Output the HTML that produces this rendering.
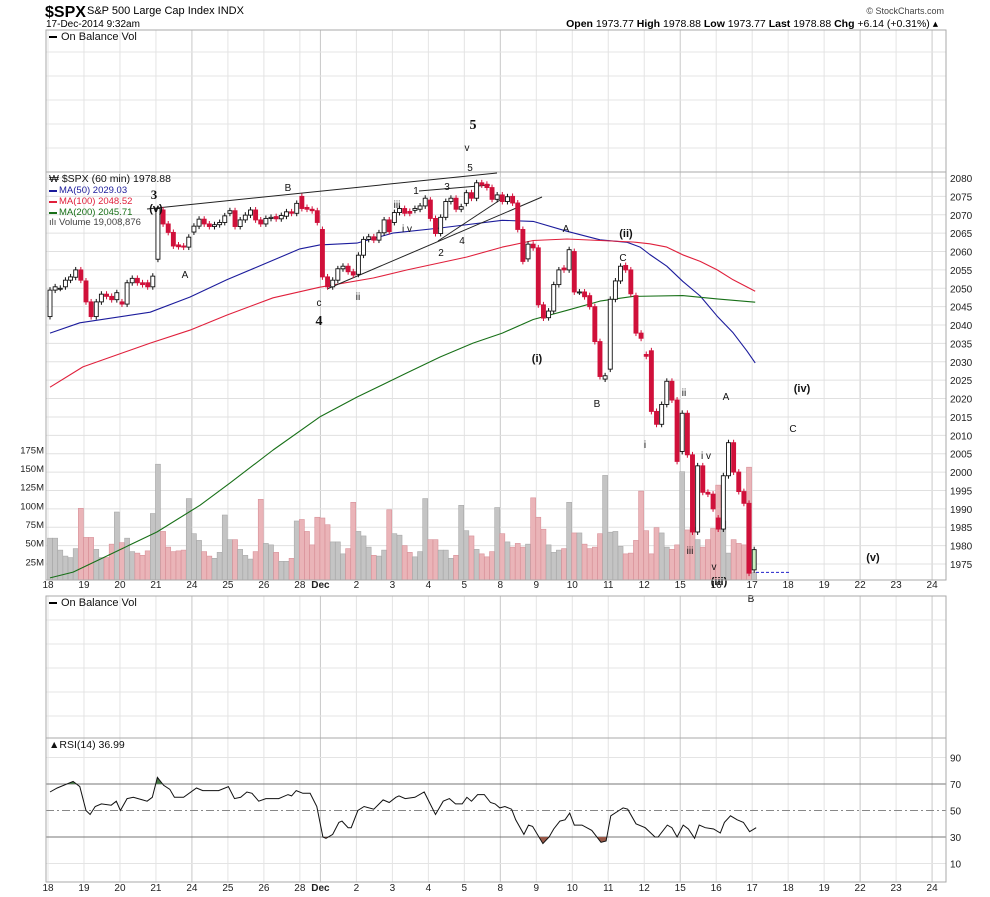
<!DOCTYPE html>
<html><head><meta charset="utf-8">
<style>
html,body{margin:0;padding:0;background:#fff;}
svg{display:block;font-family:"Liberation Sans",sans-serif;}
</style></head>
<body>
<svg id="chart" width="990" height="897" viewBox="0 0 990 897" xmlns="http://www.w3.org/2000/svg">
<text x="45" y="17" font-size="16" font-weight="bold">$SPX</text>
<text x="87" y="14" font-size="11">S&amp;P 500 Large Cap Index  INDX</text>
<text x="46" y="27" font-size="10">17-Dec-2014 9:32am</text>
<text x="944" y="14" font-size="9" fill="#444" text-anchor="end">© StockCharts.com</text>
<text x="938" y="27" font-size="10.5" text-anchor="end"><tspan font-weight="bold">Open</tspan> 1973.77  <tspan font-weight="bold">High</tspan> 1978.88  <tspan font-weight="bold">Low</tspan> 1973.77  <tspan font-weight="bold">Last</tspan> 1978.88  <tspan font-weight="bold">Chg</tspan> +6.14 (+0.31%) ▴</text>
<g id="grid"></g>
<g id="vol"></g>
<g id="ma"></g>
<g id="lines"></g>
<g id="candles"></g>
<g id="rsi"></g>
<g id="ann"></g>
<g id="frame"></g>
</svg>
<script>
// ---- data ----
const opens = [2042.3,2049.5,2050,2050.4,2052.2,2053,2055,2052,2046.3,2042.3,2046.3,2048.4,2047.8,2046.9,2046.3,2045.7,2051.5,2052.7,2051.5,2051.5,2050.4,
2057.9,2071.3,2067.5,2065.2,2061.8,2061.5,2061.2,
2065.3,2066.9,2068.8,2067.5,2066.8,2067.3,2067.9,
2070.4,2071.1,2066.8,2068.6,2069.9,2071.3,2068.6,
2067.5,2069,2069.5,2068.9,2069.6,2070.8,2070.4,
2075,2072,2071.5,2071.1,
2066,2053.1,2050.4,2052.2,2055.3,2056,2054.5,
2053.8,2059,2063.3,2064,2063.1,2065.1,2068.6,
2067.9,2070.6,2071.7,2070.9,2071.2,2071.5,2072.4,
2074,2069,2064.9,2069.3,2073.6,2074.5,2071.5,
2073.1,2076,2074.5,2078.7,2078.3,2077.4,2074.2,
2075.4,2073.6,2075,2073.2,2066,2058,2062,
2061,2045.5,2042,2043.8,2051,2055.5,2055,
2060,2049,2049,2048,2045,2035.5,2025.3,
2028,2047,2052,2056.2,2055,2048,2037.8,
2032,2033,2016.5,2013,2018.4,2024.7,2019.6,
2005.6,2016,2004.7,1983.7,2001.7,1994.5,1994,
1987.5,1984.5,1999,2008,2000,1994.7,1991.5,
1973.4];
const closes = [2049.5,2050.4,2050,2052.2,2053.1,2055,2052.2,2046.3,2042.3,2046.3,2048.4,2047.8,2046.9,2048.8,2045.7,2051.5,2052.7,2051.5,2051,2050.4,2053.3,
2071.7,2067.5,2065.2,2061.5,2061.3,2061.2,2063.9,
2066.9,2068.8,2067.5,2066.8,2067.3,2067.9,2069.7,
2071.1,2066.8,2068.6,2069.9,2071.3,2068.6,2067.5,
2069,2069.3,2068.9,2069.8,2070.8,2070.4,2073.1,
2071.7,2071.5,2071.1,2067.9,
2053.1,2050.4,2052.2,2055.3,2056,2054.5,2053.6,
2059,2063.3,2064,2063.1,2065.1,2068.6,2065.4,
2070.6,2071.7,2070.4,2070.4,2071.7,2072.4,2074.5,
2069,2064.9,2069.3,2073.6,2074.5,2071.5,2072.2,
2076,2074.5,2078.7,2078.1,2077.4,2074.2,2075.4,
2073.6,2074.9,2073.2,2066,2057.3,2062,2061,
2045.5,2041.9,2043.8,2051,2055,2055,2060.5,
2049,2049,2047.7,2045,2035.5,2026,2026.2,
2047,2052,2056,2055,2048.5,2037.8,2036.4,
2031.5,2016.5,2013,2018.4,2024.7,2019.6,2002.9,
2016,2004.7,1983.7,2001.7,1994.5,1994,1990,
1984.5,1999,2008,2000,1994.7,1991.5,1972.5,
1978.9];
const volumes = [56,56,40,32,30,42,96,57,57,41,30,30,48,91,50,56,38,36,33,39,89,155,65,44,38,39,40,109,
62,53,38,32,29,37,87,54,54,41,33,28,38,108,49,47,37,25,25,29,79,81,65,47,84,83,74,51,51,35,42,104,
65,59,44,33,32,40,94,62,60,46,37,31,38,109,54,54,40,40,29,33,100,66,59,41,35,31,38,97,
62,51,44,49,44,48,110, 84,68,47,37,40,42,104, 63,63,48,42,44,62,140, 64,65,45,35,36,53,119,
66,35,70,63,44,41,47, 145,67,70,54,44,54,69, 127,79,36,54,49,47,151, 10];
const ma50Idx = [0,5.8,19.5,27.2,34.4,40.3,48.6,52.5,59.7,66.7,75.9,88,94,100.6,107,112.3,114.8,116.7,120,123.1,126.5,129.8,132.9,135.6,137.2];
const ma50 = [2037.8,2040.6,2043.5,2047.6,2052.3,2055.8,2060.7,2061.8,2062.3,2065,2066.4,2068.5,2068.2,2065.5,2063.2,2062.5,2061.2,2059.2,2056,2051.9,2047.9,2042.4,2037.9,2032.9,2029.7];
const ma100Idx = [0,6.4,19.5,27.2,34.4,43.4,52.5,62.9,69.5,81.1,88,94,100.6,107,113.4,116.7,120,123.1,126.5,129.8,132.9,137.2];
const ma100 = [2023.1,2028.6,2035.1,2038.6,2042.7,2047.4,2050.3,2052.8,2055,2058.5,2061.2,2063,2063.4,2063,2062.6,2062.1,2061.2,2059.1,2057.3,2055,2052.3,2049.2];
const ma200Idx = [0,4.5,14.2,20.8,29.2,35,43.4,52.5,59.7,69.5,75.9,82.3,88,94,100.6,107,113.4,123.1,129.8,137.2];
const ma200 = [1971.2,1972.8,1979.3,1983.7,1991,1997,2006,2015,2020.4,2027,2031.3,2035.1,2037.8,2041.5,2044,2046.5,2047.8,2048,2047.1,2046.2];
const rsiIdx = [0,1.4,4.5,5.8,7,7.8,8.8,10,11.9,12.9,13.7,15,16.2,18,18.9,19.9,20.9,22.1,23.3,24.2,26,28.5,29.7,32.8,34.7,35.9,37.1,38.3,39.3,40.6,42,44.5,46.3,47,47.9,49.2,50.6,51.9,53.1,53.7,55,56.2,56.8,58,58.6,59.9,61.1,63,64.8,66,67.3,67.9,69.1,71,72.8,75,76.5,77.7,78.9,80.2,81.1,82,83.2,84.5,85.7,86.6,87.5,88.5,89.8,90.6,92.2,93.1,93.9,95.9,97.1,98,99.2,100.2,101.1,102,103.5,105.4,107.2,108.2,109.1,110.7,111.5,112.4,114,115.8,117.7,118.3,120.1,121,122,123.2,124.2,125.4,126.3,127.5,129.1,130.4,131.2,132.4,133.7,134.9,136.1,137.4];
const rsiVals = [64,67,72,68,50,47,53,55,54,57,50,59,60,58,57,60,75,69,66,60,60,67,65,65,68,59,60,64,63,57,59,59,62,61,65,63,63,53,30,29,32,41,42,37,37,50,53,51,58,56,60,61,59,60,64,47,57,59,55,55,60,57,62,62,56,55,52,53,51,43,32,39,38,25,30,36,42,43,48,39,39,35,26,27,46,50,52,51,40,37,30,30,39,37,30,39,36,29,39,37,36,33,41,46,43,41,34,37];
const dayLabels = ["18","19","20","21","24","25","26","28","Dec","2","3","4","5","8","9","10","11","12","15","16","17","18","19","22","23","24"];
const dayStart = [0,7,14,21,28,35,42,49,53,60,67,74,81,88,95,102,109,116,123,130,137,144,151,158,165,172];
const weekStarts = ["24","Dec","8","15","22"];
const priceTicks = [1975,1980,1985,1990,1995,2000,2005,2010,2015,2020,2025,2030,2035,2040,2045,2050,2055,2060,2065,2070,2075,2080];
const volTicks = [25,50,75,100,125,150,175];
const rsiTicks = [10,30,50,70,90];

// ---- geometry ----
const NS="http://www.w3.org/2000/svg";
const L=46,R=946;
const xOf = i => 50 + i*5.14;
const yP = p => 178 + (2080-p)*3.676;
const yV = v => 580 - v*0.747;
const yR = r => 810.5 - (r-50)*1.325;
function mk(tag,attrs,parent){const e=document.createElementNS(NS,tag);for(const k in attrs)e.setAttribute(k,attrs[k]);(parent||document.getElementById('chart')).appendChild(e);return e;}
const G=id=>document.getElementById(id);

// grid
const grid=G('grid');
[[30,172],[172,580],[596,738],[738,882]].forEach(([t,b])=>{
  dayStart.forEach((d,k)=>{
    const x=xOf(d)-2;
    const strong=weekStarts.includes(dayLabels[k])&&k>3;
    const ln=mk('line',{x1:x,x2:x,y1:t,y2:b,stroke:strong?'#c8c8c8':'#e4e4e4','stroke-width':1},grid);
    
    
  });
});
priceTicks.forEach(p=>{
  const y=yP(p);
  const ln=mk('line',{x1:L,x2:R,y1:y,y2:y,stroke:'#e0e0e0'},grid);
  
  
  const t=mk('text',{x:950,y:y+4,'font-size':10,fill:'#222'},grid);
  t.textContent=p;
  
  
});
[52,76,100,124,148,620,644,668,692,716].forEach(y=>{
  const ln=mk('line',{x1:L,x2:R,y1:y,y2:y,stroke:'#e4e4e4'},grid);
  
  
});
volTicks.forEach(v=>{
  const t=mk('text',{x:44,y:yV(v)+4,'font-size':9.5,fill:'#222','text-anchor':'end'},grid);
  t.textContent=v+'M';
  
  
});
rsiTicks.forEach(r=>{
  const y=yR(r);
  const main=(r===30||r===70);
  const ln=mk('line',{x1:L,x2:R,y1:y,y2:y,stroke:main?'#777':(r===50?'#888':'#e4e4e4'),'stroke-dasharray':r===50?'8,3,2,3':'none'},grid);
  
  
  const t=mk('text',{x:950,y:y+4,'font-size':10,fill:'#222'},grid);
  t.textContent=r;
  
  
});
[588,891].forEach(y=>{
  dayStart.forEach((d,k)=>{
    const t=mk('text',{x:xOf(d)-2,y:y,'font-size':10,'text-anchor':'middle',fill:'#222','font-weight':dayLabels[k]==='Dec'?'bold':'normal'},grid);
    t.textContent=dayLabels[k];
    
    
  });
});

// volume
const vol=G('vol');
volumes.forEach((v,i)=>{
  const up=closes[i]>=opens[i];
  const r=mk('rect',{x:xOf(i)-2.5,y:yV(v),width:5,height:580-yV(v),fill:up?'#c4c4c4':'#eab4b8',stroke:up?'#a8a8a8':'#d89098','stroke-width':0.6},vol);
  
  
});

// moving averages
const ma=G('ma');
const cp=mk('clipPath',{id:'pclip'},ma);
mk('rect',{x:L,y:172,width:R-L,height:408},cp);
[[ma50Idx,ma50,'#1c1c9c','ma50-line'],[ma100Idx,ma100,'#e0203c','ma100-line'],[ma200Idx,ma200,'#187018','ma200-line']].forEach(([idx,arr,c,n])=>{
  const d=arr.map((v,k)=>(k?'L':'M')+xOf(idx[k]).toFixed(1)+' '+yP(v).toFixed(1)).join(' ');
  const p=mk('path',{d:d,fill:'none',stroke:c,'stroke-width':1.1,'stroke-linejoin':'round','clip-path':'url(#pclip)'},ma);
  
  
});

// trendlines
const lines=G('lines');
[[147,209,497,173],[327,289,542,197],[438,241,500,200],[419,191,490,185]].forEach(s=>{
  const ln=mk('line',{x1:s[0],y1:s[1],x2:s[2],y2:s[3],stroke:'#222','stroke-width':1},lines);
  
  
});
const dl=mk('line',{x1:756,y1:yP(1972.7),x2:790,y2:yP(1972.7),stroke:'#2222cc','stroke-dasharray':'3,2'},lines);



// candles
const cg=G('candles');
closes.forEach((c,i)=>{
  const o=opens[i];
  const up=c>=o;
  const last=i===closes.length-1;
  const col=up?'#111':'#d0103a';
  const x=xOf(i);
  const hi=Math.max(o,c)+0.8, lo=Math.min(o,c)-0.8;
  const w=mk('line',{x1:x,x2:x,y1:yP(hi),y2:yP(lo),stroke:col,'stroke-width':1},cg);
  
  
  const top=yP(Math.max(o,c)), h=Math.max(1,yP(Math.min(o,c))-top);
  const b=mk('rect',{x:x-2,y:top,width:4,height:h,fill:last?'#c8f0c0':(up?'#fff':'#d0103a'),stroke:col,'stroke-width':0.9},cg);
  
  
});

// RSI
const rg=G('rsi');
const rd=rsiVals.map((v,k)=>(k?'L':'M')+xOf(rsiIdx[k]).toFixed(1)+' '+yR(v).toFixed(1)).join(' ');
const x0=xOf(rsiIdx[0]), x1=xOf(rsiIdx[rsiIdx.length-1]);
const ca=mk('clipPath',{id:'above70'},rg);
mk('rect',{x:L,y:738,width:R-L,height:yR(70)-738},ca);
const cb=mk('clipPath',{id:'below30'},rg);
mk('rect',{x:L,y:yR(30),width:R-L,height:882-yR(30)},cb);
const fa=mk('path',{d:rd+` L${x1} ${yR(70)} L${x0} ${yR(70)} Z`,fill:'#4a7a4a','clip-path':'url(#above70)'},rg);


const fb=mk('path',{d:rd+` L${x1} ${yR(30)} L${x0} ${yR(30)} Z`,fill:'#9a5a4a','clip-path':'url(#below30)'},rg);


const rl=mk('path',{d:rd,fill:'none',stroke:'#111','stroke-width':1},rg);



// annotations
const ann=G('ann');
const notes=[["5",473,129,14,1],["v",467,151,10,0],["5",470,171,10,0],["3",154,199,13,1],["(v)",156,212,11,1],["A",185,278,10,0],["B",288,191,10,0],["c",319,306,10,0],["4",319,325,14,1],["ii",358,300,10,0],["iii",397,208,10,0],["i v",407,232,10,0],["1",416,194,10,0],["3",447,190,10,0],["2",441,256,10,0],["4",462,244,10,0],["A",566,232,10,0],["(ii)",626,237,11,1],["C",623,261,10,0],["(i)",537,362,11,1],["B",597,407,10,0],["i",645,448,10,0],["ii",684,396,10,0],["A",726,400,10,0],["i v",706,459,10,0],["iii",690,554,10,0],["v",714,570,10,0],["(iii)",719,585,11,1],["B",751,602,10,0],["(iv)",802,392,11,1],["C",793,432,10,0],["(v)",873,561,11,1]];
notes.forEach(n=>{
  const t=mk('text',{x:n[1],y:n[2],'font-size':n[3],'text-anchor':'middle','font-weight':n[4]?'bold':'normal','font-family':n[4]&&n[3]>12?'"Liberation Serif",serif':'"Liberation Sans",sans-serif',fill:'#111'},ann);
  t.textContent=n[0];
  
  
});

// frame & legends
const fr=G('frame');
[[30,172],[172,580],[596,738],[738,882]].forEach(([t,b])=>{
  const r=mk('rect',{x:L,y:t,width:R-L,height:b-t,fill:'none',stroke:'#aaa'},fr);
  
  
});
function legend(x,y,txt,col,size,name){
  const t=mk('text',{x:x,y:y,'font-size':size,fill:col},fr);
  t.textContent=txt;
  
  
}
mk('rect',{x:49,y:36,width:8,height:2,fill:'#000'},fr);
legend(61,40,'On Balance Vol','#111',11,'obv-legend-top');
mk('rect',{x:49,y:602,width:8,height:2,fill:'#000'},fr);
legend(61,606,'On Balance Vol','#111',11,'obv-legend');
legend(49,182,'₩ $SPX (60 min) 1978.88','#111',10.5,'price-legend');
mk('rect',{x:49,y:190,width:8,height:2,fill:'#1c1c9c'},fr);
legend(59,193,'MA(50) 2029.03','#1c1c9c',9.5,'ma50-legend');
mk('rect',{x:49,y:201,width:8,height:2,fill:'#e0203c'},fr);
legend(59,204,'MA(100) 2048.52','#e0203c',9.5,'ma100-legend');
mk('rect',{x:49,y:212,width:8,height:2,fill:'#187018'},fr);
legend(59,215,'MA(200) 2045.71','#187018',9.5,'ma200-legend');
legend(49,225,'ılı Volume 19,008,876','#444',9.5,'volume-legend');
legend(49,748,'▲RSI(14) 36.99','#111',10.5,'rsi-legend');
</script>
</body></html>
